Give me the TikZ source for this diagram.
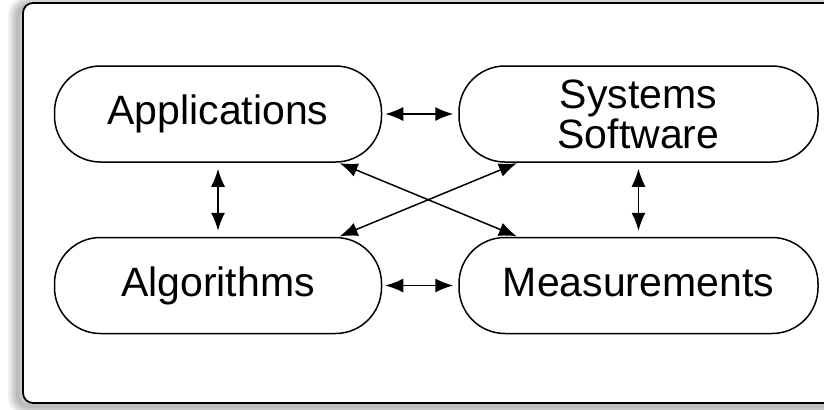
\documentclass[tikz,border=0pt]{standalone}
\usepackage{fontspec}
\setmainfont{Liberation Sans}
\usepackage{tikz}
\usetikzlibrary{arrows.meta,positioning}

\begin{document}
\begin{tikzpicture}[
 every node/.style={font=\fontsize{20.5}{20}\selectfont},
 area/.style={rounded corners=5pt},
 stage/.style={draw,line width=0.75pt,rounded corners=23pt,minimum height=48pt,inner sep=0pt},
 single/.style={text height=15pt,text depth=4.5pt},
 narrow/.style={stage,single,minimum width=163.5pt},
 wide/.style={stage,minimum width=179.5pt},
 link/.style={{Latex[length=9pt,width=7pt]}-{Latex[length=9pt,width=7pt]},line width=0.75pt}
]
\useasboundingbox (0,0) rectangle (412pt,204.5pt);
\clip (0,0) rectangle (412pt,204.5pt);
% soft shadow behind the frame
\foreach \w in {10,8,6,4,2}
 \draw[area,black,opacity=0.06,line width=\w pt,xshift=-2.5pt,yshift=-1.5pt] (11.5pt,3pt) rectangle (430pt,203pt);
\draw[area,fill=white,line width=0.9pt] (11.5pt,3pt) rectangle (430pt,203pt);

\node[narrow] (app) at (109pt,147.5pt) {Applications};
\node[wide,align=center,right=38pt of app] (sys) {Systems\\Software};
\node[narrow,below=37pt of app] (alg) {Algorithms};
\node[wide,single,right=38pt of alg] (meas) {Measurements};

\draw[link,shorten <=1.5pt,shorten >=2.5pt] (app)--(sys);
\draw[link,shorten <=1.5pt,shorten >=2.5pt] (alg)--(meas);
\draw[link,shorten <=3pt,shorten >=3pt] (app)--(alg);
\draw[link,shorten <=3pt,shorten >=3pt] (sys)--(meas);
\draw[link,shorten <=0.5pt,shorten >=0.5pt] (app.-22)--(meas.158.5);
\draw[link,shorten <=0.5pt,shorten >=0.5pt] (sys.-158.5)--(alg.22);
\end{tikzpicture}
\end{document}
